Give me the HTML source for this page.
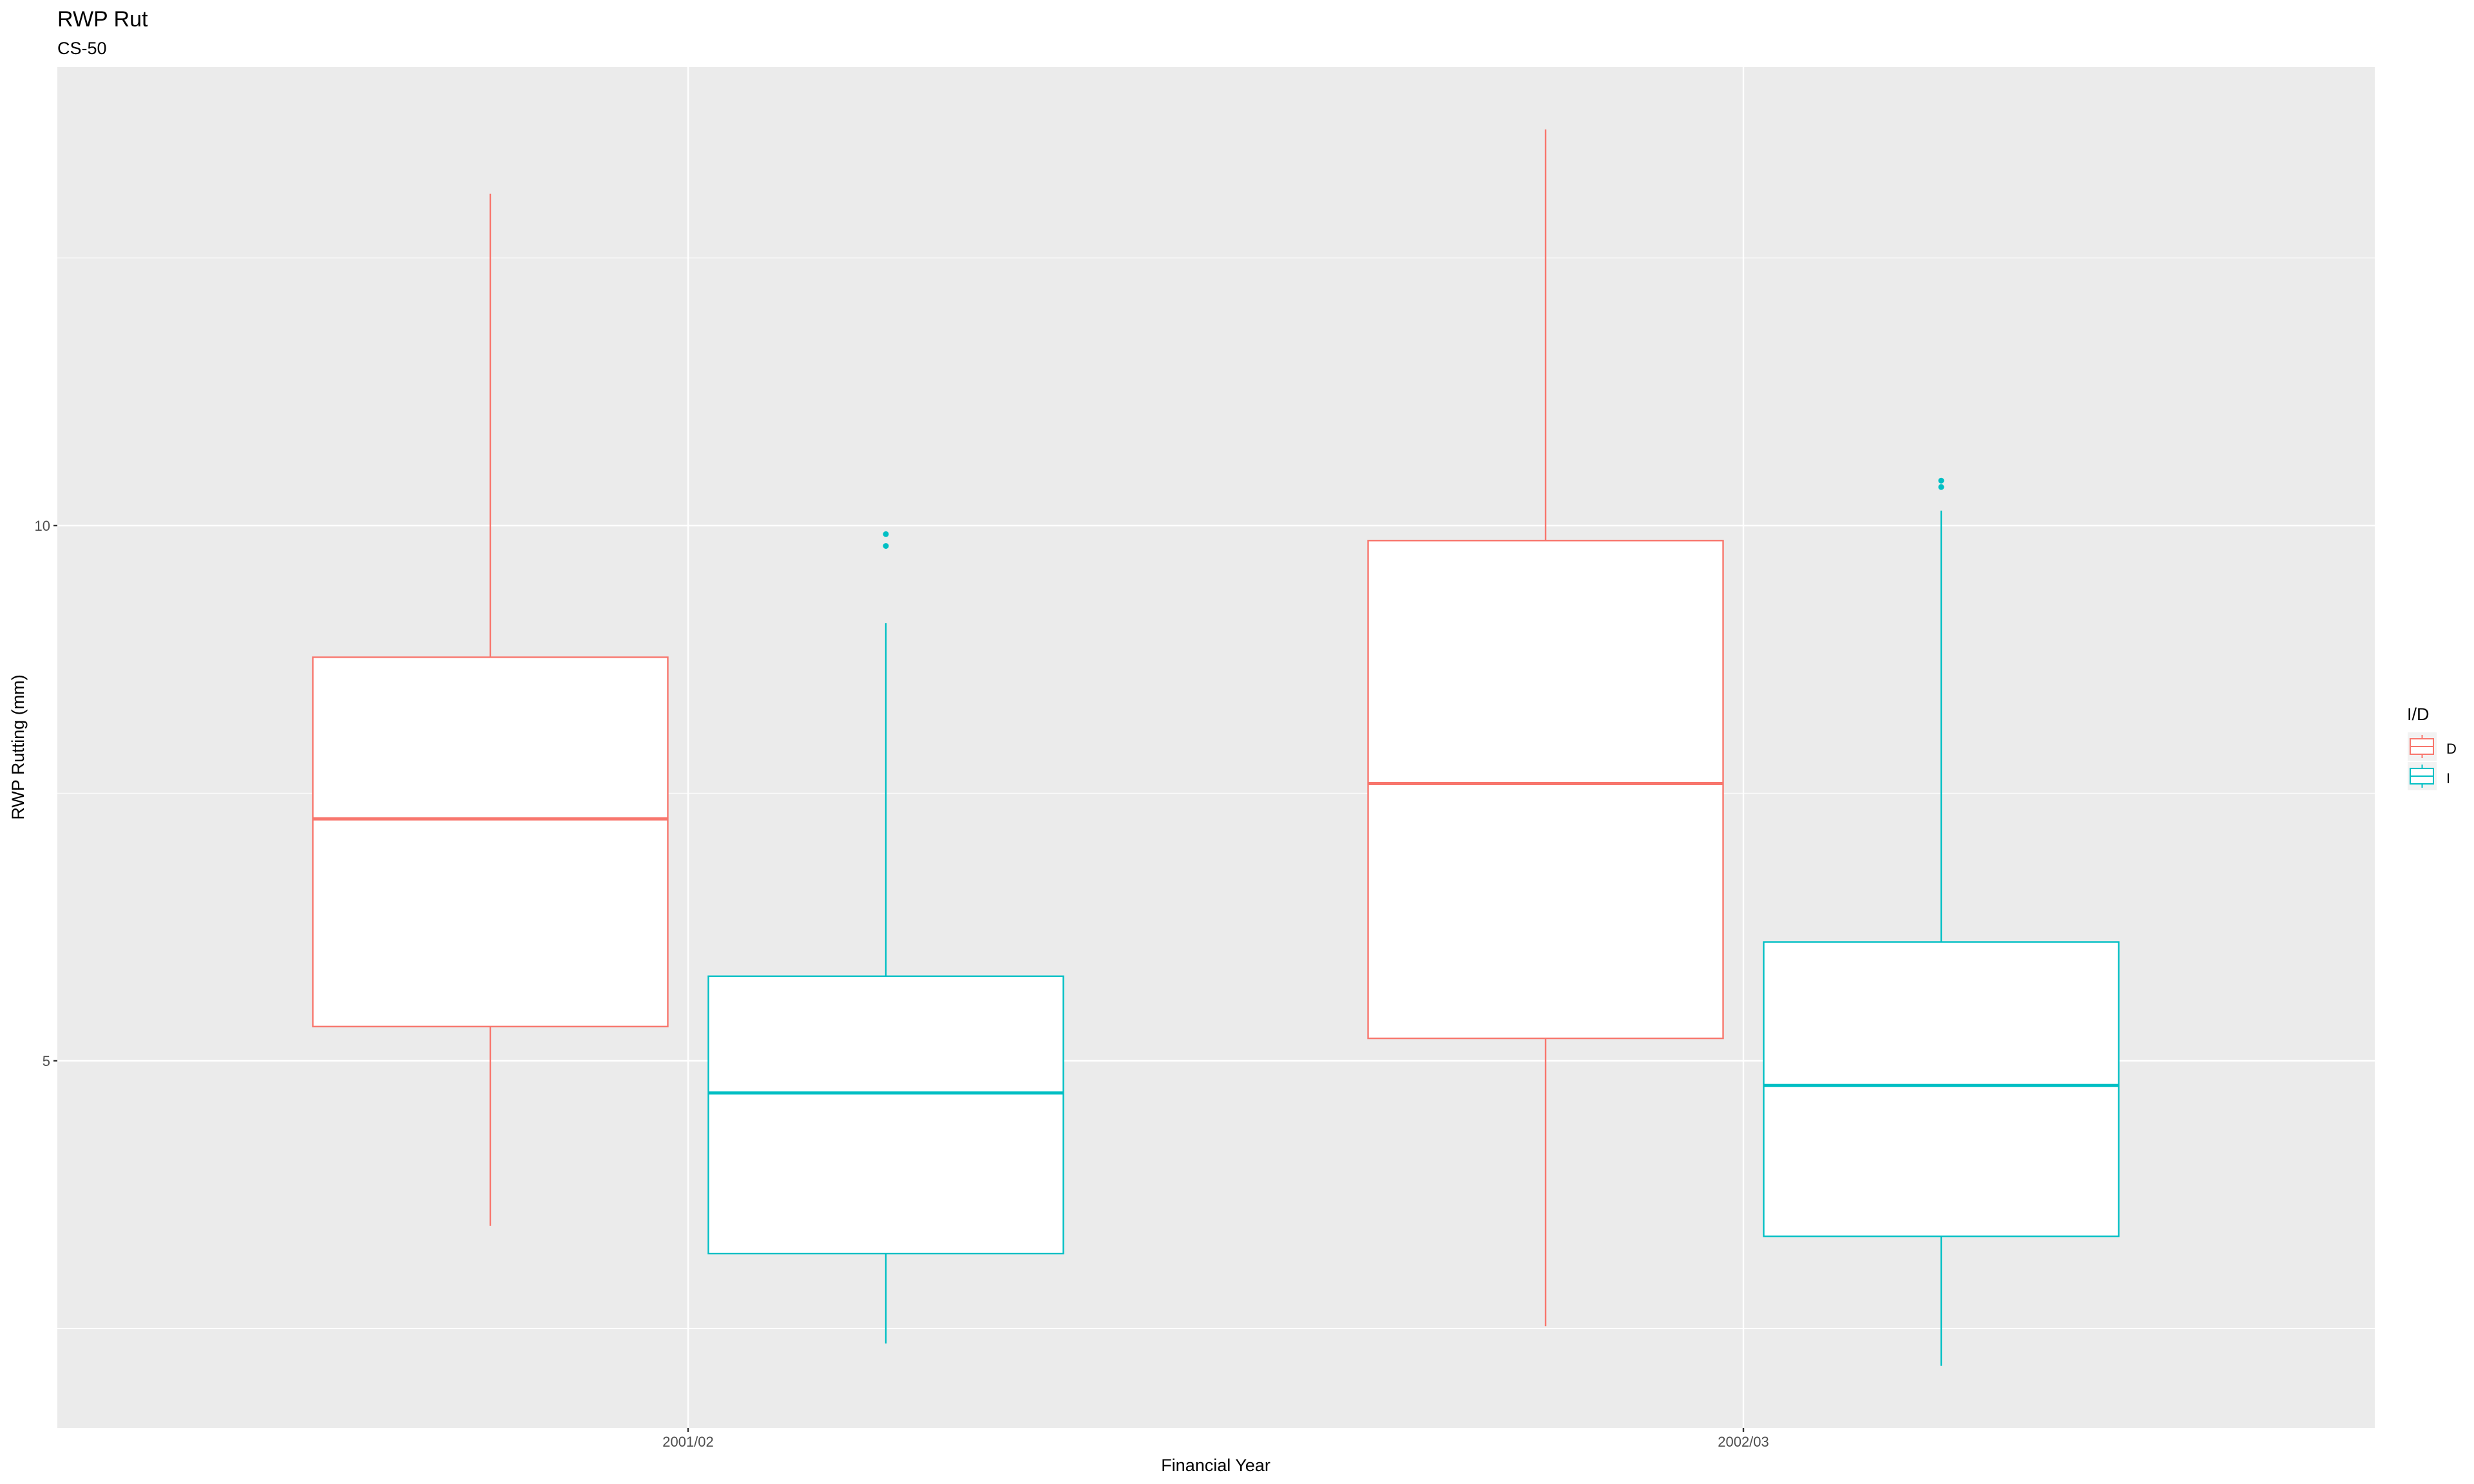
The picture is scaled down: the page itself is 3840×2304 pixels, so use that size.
<!DOCTYPE html>
<html><head><meta charset="utf-8"><style>
html,body{margin:0;padding:0;background:#fff;}
svg{display:block;font-family:"Liberation Sans",Arial,sans-serif;}
</style></head><body>
<svg id="chart" width="3840" height="2304" viewBox="0 0 3840 2304" xmlns="http://www.w3.org/2000/svg">
<rect width="3840" height="2304" fill="#fff"/>
<text x="89" y="41" font-size="34" fill="#000">RWP Rut</text>
<text x="89" y="84" font-size="27" fill="#000">CS-50</text>
<rect x="89" y="104" width="3597" height="2113" fill="#ebebeb"/>
<g id="grid"></g>
<g id="marks"></g>
<g id="axes"></g>
<text x="1887" y="2284" font-size="27" text-anchor="middle" fill="#000">Financial Year</text>
<text transform="translate(37,1160) rotate(-90)" font-size="27" text-anchor="middle" fill="#000">RWP Rutting (mm)</text>
<g>
<text x="3736" y="1118" font-size="27" fill="#000">I/D</text>
<g>
<rect x="3737" y="1137" width="45" height="44" fill="#f2f2f2"/>
<line x1="3759.5" y1="1141" x2="3759.5" y2="1177" stroke="#F8766D" stroke-width="2"/>
<rect x="3741" y="1147" width="36" height="24" fill="#fff" stroke="#F8766D" stroke-width="2"/>
<line x1="3741" y1="1159" x2="3777" y2="1159" stroke="#F8766D" stroke-width="2"/>
<text x="3797" y="1170" font-size="22" fill="#000">D</text>
</g>
<g>
<rect x="3737" y="1183" width="45" height="44" fill="#f2f2f2"/>
<line x1="3759.5" y1="1187" x2="3759.5" y2="1223" stroke="#00BFC4" stroke-width="2"/>
<rect x="3741" y="1193" width="36" height="24" fill="#fff" stroke="#00BFC4" stroke-width="2"/>
<line x1="3741" y1="1205" x2="3777" y2="1205" stroke="#00BFC4" stroke-width="2"/>
<text x="3797" y="1216" font-size="22" fill="#000">I</text>
</g>
</g>
</svg>
<script>
const categories = ["2001/02", "2002/03"];
const groups = ["D", "I"];
const lowWhisker = [[3.46, 2.36], [2.52, 2.15]];
const q1 = [[5.32, 3.20], [5.21, 3.36]];
const medians = [[7.26, 4.70], [7.59, 4.77]];
const q3 = [[8.77, 5.79], [9.86, 6.11]];
const highWhisker = [[13.10, 9.09], [13.70, 10.14]];
const outliers = [[[], [9.92, 9.81]], [[], [10.42, 10.36]]];
const yTicks = [5, 10];
const yTickLabels = ["5", "10"];
const yMinor = [2.5, 7.5, 12.5];

const NS = "http://www.w3.org/2000/svg";
const colors = ["#F8766D", "#00BFC4"];
const panel = {l: 89, r: 3686, t: 104, b: 2217};
function yPos(v){ return 816 - (v - 10) * 166.2; }
function xCat(i){ return 1068 + i * 1638; }
function xBox(i, g){ return xCat(i) + (g - 0.5) * 614; }
const boxW = 551;
function mk(tag, attrs, parent){
  const e = document.createElementNS(NS, tag);
  for (const k in attrs) e.setAttribute(k, attrs[k]);
  parent.appendChild(e);
  return e;
}
const grid = document.getElementById('grid');
yMinor.forEach(v => {
  const l = mk('line', {x1: panel.l, x2: panel.r, y1: yPos(v), y2: yPos(v), stroke: '#fff', 'stroke-width': 1.2}, grid);
  
  
});
yTicks.forEach(v => {
  const l = mk('line', {x1: panel.l, x2: panel.r, y1: yPos(v), y2: yPos(v), stroke: '#fff', 'stroke-width': 2.4}, grid);
  
  
});
categories.forEach((c, i) => {
  const l = mk('line', {x1: xCat(i), x2: xCat(i), y1: panel.t, y2: panel.b, stroke: '#fff', 'stroke-width': 2.4}, grid);
  
  
});
const marks = document.getElementById('marks');
categories.forEach((c, i) => {
  groups.forEach((gname, g) => {
    const cx = xBox(i, g), col = colors[g];
    const grp = mk('g', {}, marks);
    
    
    mk('line', {x1: cx, x2: cx, y1: yPos(highWhisker[i][g]), y2: yPos(q3[i][g]), stroke: col, 'stroke-width': 2.4}, grp);
    mk('line', {x1: cx, x2: cx, y1: yPos(q1[i][g]), y2: yPos(lowWhisker[i][g]), stroke: col, 'stroke-width': 2.4}, grp);
    mk('rect', {x: cx - boxW/2, y: yPos(q3[i][g]), width: boxW, height: yPos(q1[i][g]) - yPos(q3[i][g]), fill: '#fff', stroke: col, 'stroke-width': 2.4}, grp);
    mk('line', {x1: cx - boxW/2, x2: cx + boxW/2, y1: yPos(medians[i][g]), y2: yPos(medians[i][g]), stroke: col, 'stroke-width': 5}, grp);
    outliers[i][g].forEach(v => {
      const p = mk('circle', {cx: cx, cy: yPos(v), r: 4.5, fill: col}, grp);
      
      
    });
  });
});
const axes = document.getElementById('axes');
yTicks.forEach((v, k) => {
  mk('line', {x1: panel.l - 6, x2: panel.l, y1: yPos(v), y2: yPos(v), stroke: '#333', 'stroke-width': 2.4}, axes);
  const t = mk('text', {x: panel.l - 11, y: yPos(v) + 8, 'font-size': 22, 'text-anchor': 'end', fill: '#4d4d4d'}, axes);
  t.textContent = yTickLabels[k];
  
  
});
categories.forEach((c, i) => {
  mk('line', {x1: xCat(i), x2: xCat(i), y1: panel.b, y2: panel.b + 6, stroke: '#333', 'stroke-width': 2.4}, axes);
  const t = mk('text', {x: xCat(i), y: panel.b + 29, 'font-size': 22, 'text-anchor': 'middle', fill: '#4d4d4d'}, axes);
  t.textContent = c;
  
  
});
</script>
</body></html>
